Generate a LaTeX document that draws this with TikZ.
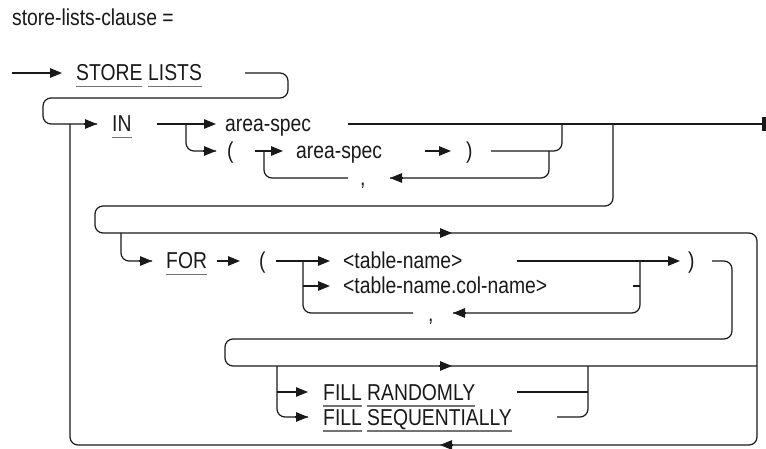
\documentclass[tikz,border=0pt]{standalone}
\usepackage{fontspec}
\setmainfont[FakeStretch=0.84]{Liberation Sans}
\usetikzlibrary{arrows.meta}
\newsavebox\kwbox
\newcommand\kwu[1]{\sbox\kwbox{#1}\rlap{\textcolor{black!55}{\rule[-6.5pt]{\wd\kwbox}{1.4pt}}}\usebox\kwbox}
\tikzset{
 txt/.style={inner sep=0pt, anchor=base west, font=\fontsize{23}{26}\selectfont, text=black!90},
 ln/.style={line width=1.2pt, draw=black!90},
 rc/.style={ln, rounded corners=8pt},
 arr/.style={ln, -{Triangle[length=12pt,width=9.5pt]}, fill=black!90},
}
\begin{document}
\begin{tikzpicture}[x=1pt,y=-1pt]
\useasboundingbox (0,0) rectangle (766,449);
% title
\node[txt] (title) at (12,26) {store-lists-clause =};
% row 0
\coordinate (in0) at (12,73); \coordinate (in1) at (62,73);
\draw[arr] (in0) -- (in1);
\node[txt] (store) at (76,81) {\kwu{STORE}};
\node[txt] (lists) at (148,81) {\kwu{LISTS}};
\coordinate (w0) at (245,73); \coordinate (w1) at (288,73);
\coordinate (w2) at (288,98); \coordinate (w3) at (43,98);
\coordinate (w4) at (43,124); \coordinate (w5) at (97,124); \coordinate (w5a) at (84,124);
\draw[rc] (w0) -- (w1) -- (w2) -- (w3) -- (w4) -- (w5);
\draw[arr] (w5a) -- (w5);
% row 1
\node[txt] (kin) at (112,132) {\kwu{IN}};
\coordinate (i0) at (157,124); \coordinate (i1) at (216,124);
\draw[arr] (i0) -- (i1);
\coordinate (j0) at (186,124); \coordinate (j1) at (186,151);
\coordinate (j2) at (216,151); \coordinate (j2a) at (203,151);
\draw[rc] (j0) -- (j1) -- (j2);
\draw[arr] (j2a) -- (j2);
\node[txt] (as1) at (225,132) {area-spec};
\coordinate (e0) at (348,124); \coordinate (e1) at (765,124);
\draw[ln] (e0) -- (e1);
\coordinate (eb0) at (762,117); \coordinate (eb1) at (765.5,131);
\fill[black!90] (eb0) rectangle (eb1);
% row 2
\node[txt] (lp1) at (227,159) {(};
\coordinate (t0) at (255,151); \coordinate (t1) at (283,151);
\draw[arr] (t0) -- (t1);
\node[txt] (as2) at (296,159) {area-spec};
\coordinate (k0) at (425,151); \coordinate (k1) at (451,151);
\draw[arr] (k0) -- (k1);
\node[txt] (rp1) at (466,159) {)};
\coordinate (m0) at (491,151); \coordinate (m1) at (562,151); \coordinate (m2) at (562,124);
\draw[rc] (m0) -- (m1) -- (m2);
% loop of area-spec
\coordinate (l0) at (264,151); \coordinate (l1) at (264,178); \coordinate (l2) at (348,178);
\draw[rc] (l0) -- (l1) -- (l2);
\node[txt] (cm1) at (360,186) {,};
\coordinate (r0) at (549,151); \coordinate (r1) at (549,178);
\coordinate (r2) at (390,178); \coordinate (r2a) at (403,178);
\draw[rc] (r0) -- (r1) -- (r2);
\draw[arr] (r2a) -- (r2);
% outer loop
\coordinate (o0) at (613,124); \coordinate (o1) at (613,206);
\coordinate (o2) at (95,206); \coordinate (o3) at (95,233);
\coordinate (o4) at (757,233); \coordinate (o5) at (757,445);
\coordinate (o6) at (70,445); \coordinate (o7) at (70,124);
\draw[rc] (o0) -- (o1) -- (o2) -- (o3) -- (o4) -- (o5) -- (o6) -- (o7);
\coordinate (oa0) at (439,233); \coordinate (oa1) at (452,233);
\draw[arr] (oa0) -- (oa1);
\coordinate (ob0) at (453,445); \coordinate (ob1) at (440,445);
\draw[arr] (ob0) -- (ob1);
% FOR row
\coordinate (f0) at (121,233); \coordinate (f1) at (121,261);
\coordinate (f2) at (152,261); \coordinate (f2a) at (139,261);
\draw[rc] (f0) -- (f1) -- (f2);
\draw[arr] (f2a) -- (f2);
\node[txt] (kfor) at (166,269) {\kwu{FOR}};
\coordinate (p0) at (217,261); \coordinate (p1) at (240,261);
\draw[arr] (p0) -- (p1);
\node[txt] (lp2) at (259,269) {(};
\coordinate (q0) at (276,261); \coordinate (q1) at (330,261);
\draw[arr] (q0) -- (q1);
\coordinate (g0) at (303,261); \coordinate (g1) at (303,313); \coordinate (g2) at (413,313);
\draw[rc] (g0) -- (g1) -- (g2);
\coordinate (u0) at (303,286); \coordinate (u1) at (330,286);
\draw[arr] (u0) -- (u1);
\node[txt] (tn1) at (343,269) {<table-name>};
\node[txt] (tn2) at (343,294) {<table-name.col-name>};
\node[txt] (cm2) at (428,321) {,};
\coordinate (h0) at (640,261); \coordinate (h1) at (640,313);
\coordinate (h2) at (453,313); \coordinate (h2a) at (466,313);
\draw[rc] (h0) -- (h1) -- (h2);
\draw[arr] (h2a) -- (h2);
\coordinate (v0) at (517,261); \coordinate (v1) at (680,261);
\draw[arr] (v0) -- (v1);
\coordinate (s0) at (633,286); \coordinate (s1) at (640,286);
\draw[ln] (s0) -- (s1);
\node[txt] (rp2) at (688,269) {)};
% capsule 2
\coordinate (c0) at (712,261); \coordinate (c1) at (732,261);
\coordinate (c2) at (732,339); \coordinate (c3) at (225,339);
\coordinate (c4) at (225,366); \coordinate (c5) at (757,366);
\draw[rc] (c0) -- (c1) -- (c2) -- (c3) -- (c4) -- (c5);
\coordinate (ca0) at (439,366); \coordinate (ca1) at (452,366);
\draw[arr] (ca0) -- (ca1);
% FILL rows
\coordinate (d0) at (277,366); \coordinate (d1) at (277,417);
\coordinate (d2) at (308,417); \coordinate (d2a) at (295,417);
\draw[rc] (d0) -- (d1) -- (d2);
\draw[arr] (d2a) -- (d2);
\coordinate (n0) at (277,392); \coordinate (n1) at (308,392);
\draw[arr] (n0) -- (n1);
\node[txt] (fr) at (323,400) {\kwu{FILL} \kwu{RANDOMLY}};
\node[txt] (fs) at (323,425) {\kwu{FILL} \kwu{SEQUENTIALLY}};
\coordinate (x0) at (517,392); \coordinate (x1) at (588,392);
\draw[ln] (x0) -- (x1);
\coordinate (y0) at (557,417); \coordinate (y1) at (588,417); \coordinate (y2) at (588,366);
\draw[rc] (y0) -- (y1) -- (y2);
\end{tikzpicture}
\end{document}
